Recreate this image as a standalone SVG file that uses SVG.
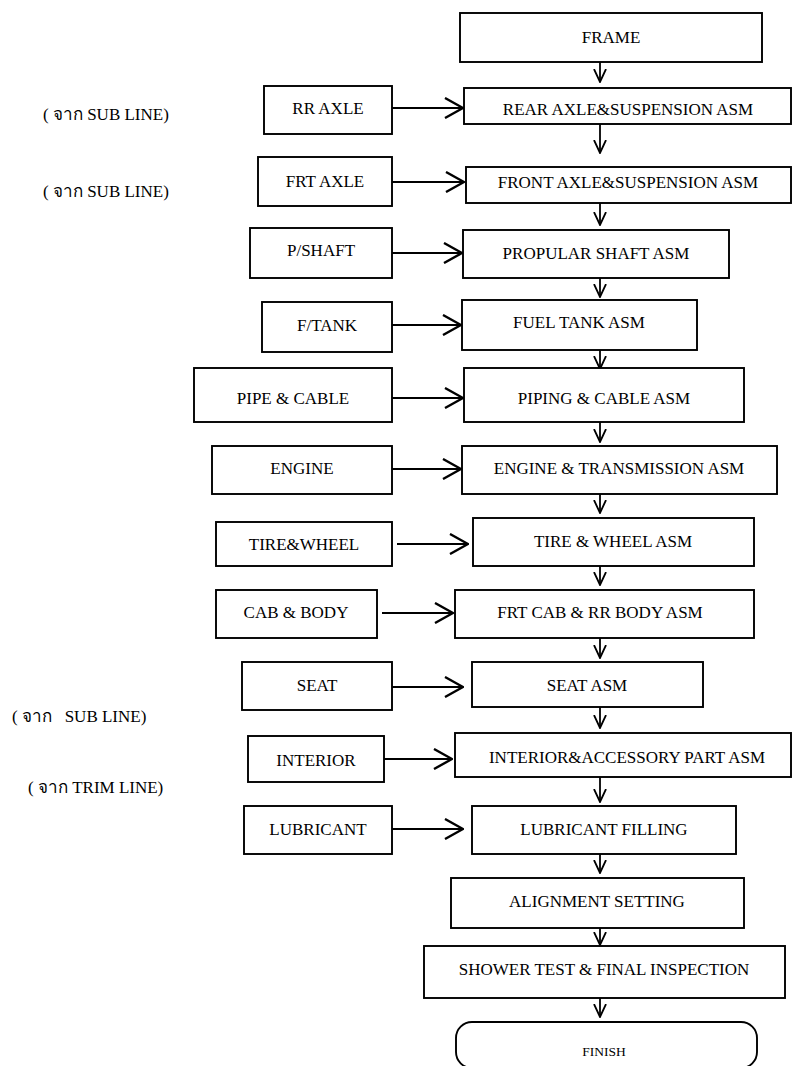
<svg xmlns="http://www.w3.org/2000/svg" width="793" height="1066" viewBox="0 0 793 1066">
  <defs>
    <style>
      .box { fill: #ffffff; stroke: #000000; stroke-width: 1.9; }
      .lbl { font-size: 17px; fill: #000000; text-anchor: middle; }
      .note { font-size: 17px; fill: #000000; }
      .small { font-size: 13.5px; }
      .wire { fill: none; stroke: #000000; stroke-width: 2.2; }
      .down { fill: none; stroke: #000000; stroke-width: 1.8; }
    </style>
    <marker id="openHead" viewBox="0 0 20 22" refX="19" refY="11" markerWidth="20" markerHeight="22" markerUnits="userSpaceOnUse" orient="auto">
      <path d="M1,1 L19,11 L1,21" fill="none" stroke="#000" stroke-width="2.4"/>
    </marker>
    <marker id="vHead" viewBox="0 0 16 14" refX="8" refY="13" markerWidth="16" markerHeight="14" markerUnits="userSpaceOnUse" orient="0">
      <path d="M2,0 L8,13 L14,0" fill="none" stroke="#000" stroke-width="1.8"/>
    </marker>
  </defs>

  <rect width="793" height="1066" fill="#ffffff"/>

  <g font-family="'Liberation Serif', 'Times New Roman', Times, serif">
  <!-- side notes -->
  <g id="notes">
    <text class="note" x="43" y="120">( จาก SUB LINE)</text>
    <text class="note" x="43" y="197">( จาก SUB LINE)</text>
    <text class="note" x="12" y="722" xml:space="preserve">( จาก   SUB LINE)</text>
    <text class="note" x="28" y="793">( จาก TRIM LINE)</text>
  </g>

  <!-- connectors -->
  <g id="connectors">
    <!-- feeds into the main line -->
    <line class="wire" x1="392" y1="108" x2="463" y2="108" marker-end="url(#openHead)"/>
    <line class="wire" x1="392" y1="182" x2="464" y2="182" marker-end="url(#openHead)"/>
    <line class="wire" x1="392" y1="253" x2="462" y2="253" marker-end="url(#openHead)"/>
    <line class="wire" x1="392" y1="325" x2="461" y2="325" marker-end="url(#openHead)"/>
    <line class="wire" x1="392" y1="398" x2="463" y2="398" marker-end="url(#openHead)"/>
    <line class="wire" x1="392" y1="469" x2="461" y2="469" marker-end="url(#openHead)"/>
    <line class="wire" x1="397" y1="544" x2="468" y2="544" marker-end="url(#openHead)"/>
    <line class="wire" x1="382" y1="613" x2="453" y2="613" marker-end="url(#openHead)"/>
    <line class="wire" x1="392" y1="687" x2="463" y2="687" marker-end="url(#openHead)"/>
    <line class="wire" x1="384" y1="759" x2="452" y2="759" marker-end="url(#openHead)"/>
    <line class="wire" x1="392" y1="829" x2="463" y2="829" marker-end="url(#openHead)"/>
    <!-- main line flow -->
    <line class="down" x1="600" y1="62" x2="600" y2="82" marker-end="url(#vHead)"/>
    <line class="down" x1="600" y1="124" x2="600" y2="153" marker-end="url(#vHead)"/>
    <line class="down" x1="600" y1="203" x2="600" y2="225" marker-end="url(#vHead)"/>
    <line class="down" x1="600" y1="278" x2="600" y2="297" marker-end="url(#vHead)"/>
    <line class="down" x1="600" y1="350" x2="600" y2="369" marker-end="url(#vHead)"/>
    <line class="down" x1="600" y1="422" x2="600" y2="442" marker-end="url(#vHead)"/>
    <line class="down" x1="600" y1="494" x2="600" y2="513" marker-end="url(#vHead)"/>
    <line class="down" x1="600" y1="566" x2="600" y2="585" marker-end="url(#vHead)"/>
    <line class="down" x1="600" y1="638" x2="600" y2="658" marker-end="url(#vHead)"/>
    <line class="down" x1="600" y1="707" x2="600" y2="728" marker-end="url(#vHead)"/>
    <line class="down" x1="600" y1="777" x2="600" y2="802" marker-end="url(#vHead)"/>
    <line class="down" x1="600" y1="854" x2="600" y2="873" marker-end="url(#vHead)"/>
    <line class="down" x1="600" y1="928" x2="600" y2="945" marker-end="url(#vHead)"/>
    <line class="down" x1="600" y1="998" x2="600" y2="1017" marker-end="url(#vHead)"/>
  </g>

  <!-- main assembly line -->
  <g id="frame"><rect class="box" x="460" y="13" width="302" height="49"/><text class="lbl" x="611" y="43">FRAME</text></g>
  <g id="rear-axle-asm"><rect class="box" x="464" y="88" width="327" height="36"/><text class="lbl" x="628" y="115">REAR AXLE&amp;SUSPENSION ASM</text></g>
  <g id="front-axle-asm"><rect class="box" x="466" y="167" width="325" height="36"/><text class="lbl" x="628" y="188">FRONT AXLE&amp;SUSPENSION ASM</text></g>
  <g id="propular-shaft-asm"><rect class="box" x="463" y="230" width="266" height="48"/><text class="lbl" x="596" y="259">PROPULAR SHAFT ASM</text></g>
  <g id="fuel-tank-asm"><rect class="box" x="462" y="300" width="235" height="50"/><text class="lbl" x="579" y="328">FUEL TANK ASM</text></g>
  <g id="piping-cable-asm"><rect class="box" x="464" y="368" width="280" height="54"/><text class="lbl" x="604" y="404">PIPING &amp; CABLE ASM</text></g>
  <g id="engine-trans-asm"><rect class="box" x="462" y="446" width="315" height="48"/><text class="lbl" x="619" y="474">ENGINE &amp; TRANSMISSION ASM</text></g>
  <g id="tire-wheel-asm"><rect class="box" x="473" y="518" width="281" height="48"/><text class="lbl" x="613" y="547">TIRE &amp; WHEEL ASM</text></g>
  <g id="cab-body-asm"><rect class="box" x="455" y="590" width="299" height="48"/><text class="lbl" x="600" y="618">FRT CAB &amp; RR BODY ASM</text></g>
  <g id="seat-asm"><rect class="box" x="472" y="662" width="231" height="45"/><text class="lbl" x="587" y="691">SEAT ASM</text></g>
  <g id="interior-asm"><rect class="box" x="455" y="733" width="336" height="44"/><text class="lbl" x="627" y="763">INTERIOR&amp;ACCESSORY PART ASM</text></g>
  <g id="lubricant-filling"><rect class="box" x="472" y="806" width="264" height="48"/><text class="lbl" x="604" y="835">LUBRICANT FILLING</text></g>
  <g id="alignment-setting"><rect class="box" x="451" y="878" width="293" height="50"/><text class="lbl" x="597" y="907">ALIGNMENT SETTING</text></g>
  <g id="shower-final"><rect class="box" x="424" y="946" width="361" height="52"/><text class="lbl" x="604" y="975">SHOWER TEST &amp; FINAL INSPECTION</text></g>
  <g id="finish"><rect class="box" x="456" y="1022" width="301" height="46" rx="16" ry="16"/><text class="lbl small" x="604" y="1056">FINISH</text></g>

  <!-- parts fed from the sub lines -->
  <g id="rr-axle"><rect class="box" x="264" y="86" width="128" height="48"/><text class="lbl" x="328" y="114">RR AXLE</text></g>
  <g id="frt-axle"><rect class="box" x="258" y="157" width="134" height="49"/><text class="lbl" x="325" y="187">FRT AXLE</text></g>
  <g id="p-shaft"><rect class="box" x="250" y="228" width="142" height="50"/><text class="lbl" x="321" y="256">P/SHAFT</text></g>
  <g id="f-tank"><rect class="box" x="262" y="302" width="130" height="50"/><text class="lbl" x="327" y="331">F/TANK</text></g>
  <g id="pipe-cable"><rect class="box" x="194" y="368" width="198" height="54"/><text class="lbl" x="293" y="404">PIPE &amp; CABLE</text></g>
  <g id="engine"><rect class="box" x="212" y="446" width="180" height="48"/><text class="lbl" x="302" y="474">ENGINE</text></g>
  <g id="tire-wheel"><rect class="box" x="216" y="522" width="176" height="44"/><text class="lbl" x="304" y="550">TIRE&amp;WHEEL</text></g>
  <g id="cab-body"><rect class="box" x="216" y="590" width="161" height="48"/><text class="lbl" x="296" y="618">CAB &amp; BODY</text></g>
  <g id="seat"><rect class="box" x="242" y="662" width="150" height="48"/><text class="lbl" x="317" y="691">SEAT</text></g>
  <g id="interior"><rect class="box" x="248" y="736" width="136" height="46"/><text class="lbl" x="316" y="766">INTERIOR</text></g>
  <g id="lubricant"><rect class="box" x="244" y="806" width="148" height="48"/><text class="lbl" x="318" y="835">LUBRICANT</text></g>
  </g>
</svg>
